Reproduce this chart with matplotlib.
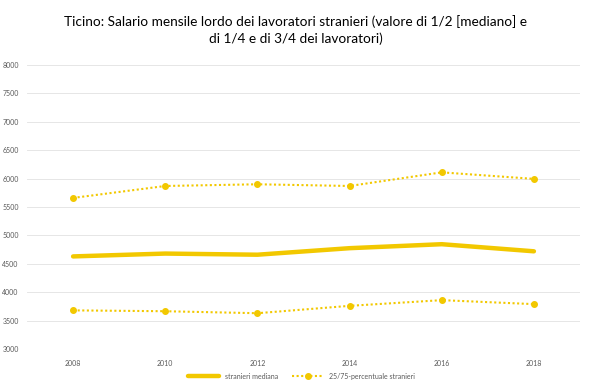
import matplotlib
matplotlib.use("Agg")
import matplotlib.pyplot as plt

YEARS = ["2008", "2010", "2012", "2014", "2016", "2018"]
MEDIANA = [4630, 4680, 4660, 4775, 4845, 4720]
P75 = [5660, 5870, 5900, 5870, 6110, 5995]
P25 = [3680, 3665, 3630, 3760, 3860, 3790]
YTICKS = list(range(3000, 8001, 500))

TITLE = ("Ticino: Salario mensile lordo dei lavoratori stranieri (valore di 1/2 [mediano] e\n"
         "di 1/4 e di 3/4 dei lavoratori)")

GOLD = "#F2C800"
TEXT = "#595959"

plt.rcParams["font.family"] = ["Lato", "DejaVu Sans"]

fig = plt.figure(figsize=(5.91, 3.86), dpi=100)
ax = fig.add_axes([27 / 591, 37 / 386, 553 / 591, 284 / 386])

x = list(range(len(YEARS)))
ax.plot(x, MEDIANA, color=GOLD, linewidth=3.2, solid_capstyle="round",
        label="stranieri mediana", zorder=3)
ax.plot(x, P75, color=GOLD, linewidth=1.5, linestyle=(0, (1, 1.2)),
        marker="o", markersize=4, label="25/75-percentuale stranieri", zorder=3)
ax.plot(x, P25, color=GOLD, linewidth=1.5, linestyle=(0, (1, 1.2)),
        marker="o", markersize=4, zorder=3)

ax.set_xlim(-0.5, len(YEARS) - 0.5)
ax.set_ylim(3000, 8000)
ax.set_xticks(x)
ax.set_xticklabels(YEARS)
ax.set_yticks(YTICKS)
ax.tick_params(axis="both", length=0, labelsize=5, colors=TEXT)
ax.tick_params(axis="x", pad=8)
ax.tick_params(axis="y", pad=6)
for s in ax.spines.values():
    s.set_visible(False)
ax.grid(axis="y", color="#E6E6E6", linewidth=0.7)
ax.set_axisbelow(True)

fig.text(0.5, 0.96, TITLE, ha="center", va="top", fontsize=9.8,
         color="#000000", linespacing=1.4)

leg = fig.legend(loc="lower center", bbox_to_anchor=(0.51, 0.0), ncol=2,
                 frameon=False, fontsize=5, handlelength=4.5, columnspacing=2,
                 labelcolor=TEXT)

fig.savefig("out.png", dpi=100)
